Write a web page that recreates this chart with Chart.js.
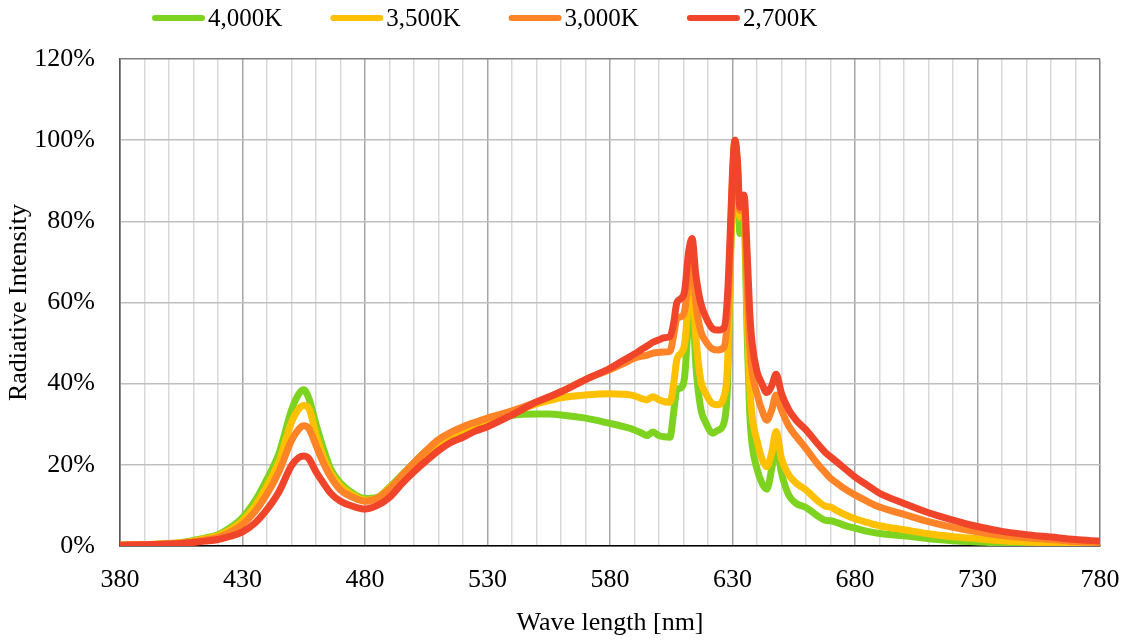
<!DOCTYPE html>
<html><head><meta charset="utf-8">
<script src="https://cdn.jsdelivr.net/npm/chart.js@4.4.1/dist/chart.umd.min.js"></script>
<style>html,body{margin:0;padding:0;background:#fff}#wrap{width:1125px;height:642px;position:relative}</style>
</head><body><div id="wrap"><canvas id="c"></canvas></div>
<script>
const wavelengths = [380,390,400,405,410,415,420,425,430,435,
 440,445,450,453,455,457,460,463,466,470,
 475,480,485,490,495,500,505,510,515,520,
 525,530,540,550,555,560,570,580,585,590,
 593,595,597.5,600,602,604.5,606,607.3,609,610.5,
 612,613.5,615,617,619,622,624,626.5,628,629,
 630,631,632,633,634.7,636,637,638,640,642,
 644,646,647.8,650,653,656,660,665,668,670,
 673,676,680,685,690,700,710,720,730,740,
 750,760,770,780];

const series4000K = [0.2,0.3,0.6,0.9,1.4,2.0,2.8,4.5,7.0,11,
 16.5,23,33.5,37.5,38.5,36.5,30,24,19,15.5,
 13,11.7,12,14.5,17.5,20.5,23.5,25.5,27,28.5,
 29.5,30.5,32.2,32.5,32.5,32.3,31.5,30.2,29.5,28.6,
 27.8,27.2,28.1,27.2,26.9,26.8,33,38.5,39,42,
 55,62,45,34,30.5,27.8,28.5,30.3,40,65,
 88,99,92,77,80,52,33,25,19,15.5,
 14,19,25,18,12.5,10.5,9.5,7.3,6.3,6.2,
 5.7,5,4.4,3.6,3.1,2.5,1.8,1.3,1.0,0.7,
 0.5,0.3,0.2,0.1];

const series3500K = [0.2,0.3,0.6,0.8,1.2,1.8,2.5,4.0,6.2,9.8,
 14.8,21,30.5,33.8,34.6,34,27.5,22,18,14.8,
 12.5,11.3,11.8,14.3,17,20,23,25.3,27,28.6,
 29.8,30.8,33,35,35.8,36.5,37.2,37.5,37.4,37,
 36.3,36,36.8,36,35.6,35.4,40,46,47.5,50,
 60,66,52,41,37.7,35,34.8,36.8,45,68,
 89,99.5,93,81,83,58,40,32,26,21.5,
 19.5,23,28.2,21.5,17.5,15.5,13.8,11,9.8,9.6,
 8.6,7.7,6.7,5.8,5.0,4.0,3.0,2.3,1.8,1.3,
 1.0,0.7,0.5,0.3];

const series3000K = [0.2,0.3,0.5,0.7,1.0,1.5,2.1,3.4,5.3,8.4,
 12.8,18.5,26,28.8,29.6,29,24.8,20.5,17,13.8,
 12,11,11.8,14,17.3,20.5,23.5,26.2,28,29.4,
 30.5,31.5,33.3,35.5,36.7,38,41,43.5,44.8,46.3,
 46.8,47,47.5,47.7,47.8,48,52,56,56.5,58,
 66,70,60,53,50.5,48.5,48.3,49,57,72,
 90,100,94,82.7,85,64,50,43,37.5,33.5,
 31,33.5,37.2,33.5,29.5,27,24,20,18,16.7,
 15.3,14,12.6,11,9.6,7.8,6.0,4.6,3.5,2.6,
 2.0,1.6,1.1,0.8];

const series2700K = [0.2,0.3,0.5,0.6,0.9,1.2,1.6,2.4,3.5,5.6,
 9.0,13.5,19.8,21.8,22.2,21.6,18.3,15.5,13,11,
 9.8,9.1,10,12,15.3,18.3,21,23.5,25.5,26.8,
 28.3,29.4,32.3,35.5,36.7,38,41,43.8,45.6,47.3,
 48.5,49.2,50.2,50.8,51.3,51.6,55,60,61,63,
 72,75.8,67,60,56.5,53.5,53.2,53.8,62,76,
 92,100,95,83.5,86.5,72,58,50,43,40,
 37.8,39.5,42.3,37.6,33.5,31,28.6,25,23,22,
 20.5,19,17,15,13,10.5,8.2,6.4,4.8,3.6,
 2.8,2.2,1.6,1.2];

const seriesLabels = ['4,000K','3,500K','3,000K','2,700K'];
const seriesColors = ['#7ed321','#ffc000','#ff8427','#f0452a'];
const seriesValues = [series4000K, series3500K, series3000K, series2700K];
const xTickLabels = [380,430,480,530,580,630,680,730,780];
const yTickLabels = ['0%','20%','40%','60%','80%','100%','120%'];

const FONT = "'Liberation Serif', 'Times New Roman', serif";

const topLegend = {
  id: 'topLegend',
  afterDraw(chart) {
    const ctx = chart.ctx;
    ctx.save();
    ctx.font = '25px ' + FONT;
    ctx.textBaseline = 'middle';
    ctx.textAlign = 'left';
    let x = 152; const y = 18;
    chart.data.datasets.forEach(ds => {
      ctx.strokeStyle = ds.borderColor;
      ctx.lineWidth = 6;
      ctx.lineCap = 'round';
      ctx.beginPath(); ctx.moveTo(x + 3, y); ctx.lineTo(x + 50, y); ctx.stroke();
      ctx.fillStyle = '#000';
      ctx.fillText(ds.label, x + 56, y + 1);
      x += 56 + ctx.measureText(ds.label).width + 48;
    });
    ctx.restore();
  }
};

const datasets = seriesLabels.map((label, i) => ({
  label,
  data: wavelengths.map((w, j) => ({x: w, y: seriesValues[i][j]})),
  borderColor: seriesColors[i],
  backgroundColor: seriesColors[i],
  borderWidth: 7,
  pointRadius: 0,
  cubicInterpolationMode: 'monotone',
  borderJoinStyle: 'round',
  borderCapStyle: 'round',
  fill: false,
  order: seriesLabels.length - i
}));

new Chart(document.getElementById('c'), {
  type: 'line',
  data: { datasets },
  options: {
    responsive: true,
    maintainAspectRatio: false,
    animation: false,
    devicePixelRatio: 1,
    layout: { padding: { top: 59, right: 25, left: 0, bottom: 0 } },
    plugins: { legend: { display: false }, tooltip: { enabled: false } },
    scales: {
      x: {
        type: 'linear', min: 380, max: 780,
        afterFit(s) { s.height = 96; s.paddingLeft = 0; s.paddingRight = 0; },
        ticks: {
          stepSize: 10, autoSkip: false, maxRotation: 0, minRotation: 0,
          padding: 19, color: '#000', font: { family: FONT, size: 26 },
          callback: v => xTickLabels.includes(v) ? String(v) : ''
        },
        grid: {
          drawTicks: false, lineWidth: 1.5,
          color: c => {
            const v = c.tick ? c.tick.value : 0;
            if (v === 380 || v === 780) return '#7f7f7f';
            return xTickLabels.includes(v) ? '#a6a6a6' : '#d9d9d9';
          }
        },
        border: { color: '#000', width: 1.5 },
        title: { display: true, text: 'Wave length [nm]', color: '#000', font: { family: FONT, size: 26 }, padding: { top: 0, bottom: 3 } }
      },
      y: {
        min: 0, max: 120,
        afterFit(s) { s.width = 120; },
        ticks: {
          stepSize: 20, padding: 25, color: '#000', font: { family: FONT, size: 26 },
          callback: (v, i) => yTickLabels[i]
        },
        grid: {
          drawTicks: false, lineWidth: 1.5,
          color: c => (c.tick && c.tick.value === 120) ? '#7f7f7f' : '#bfbfbf'
        },
        border: { color: '#595959', width: 1.5 },
        title: { display: true, text: 'Radiative Intensity', color: '#000', font: { family: FONT, size: 26 }, padding: { top: 4, bottom: 0 } }
      }
    }
  },
  plugins: [topLegend]
});
</script>
</body></html>
